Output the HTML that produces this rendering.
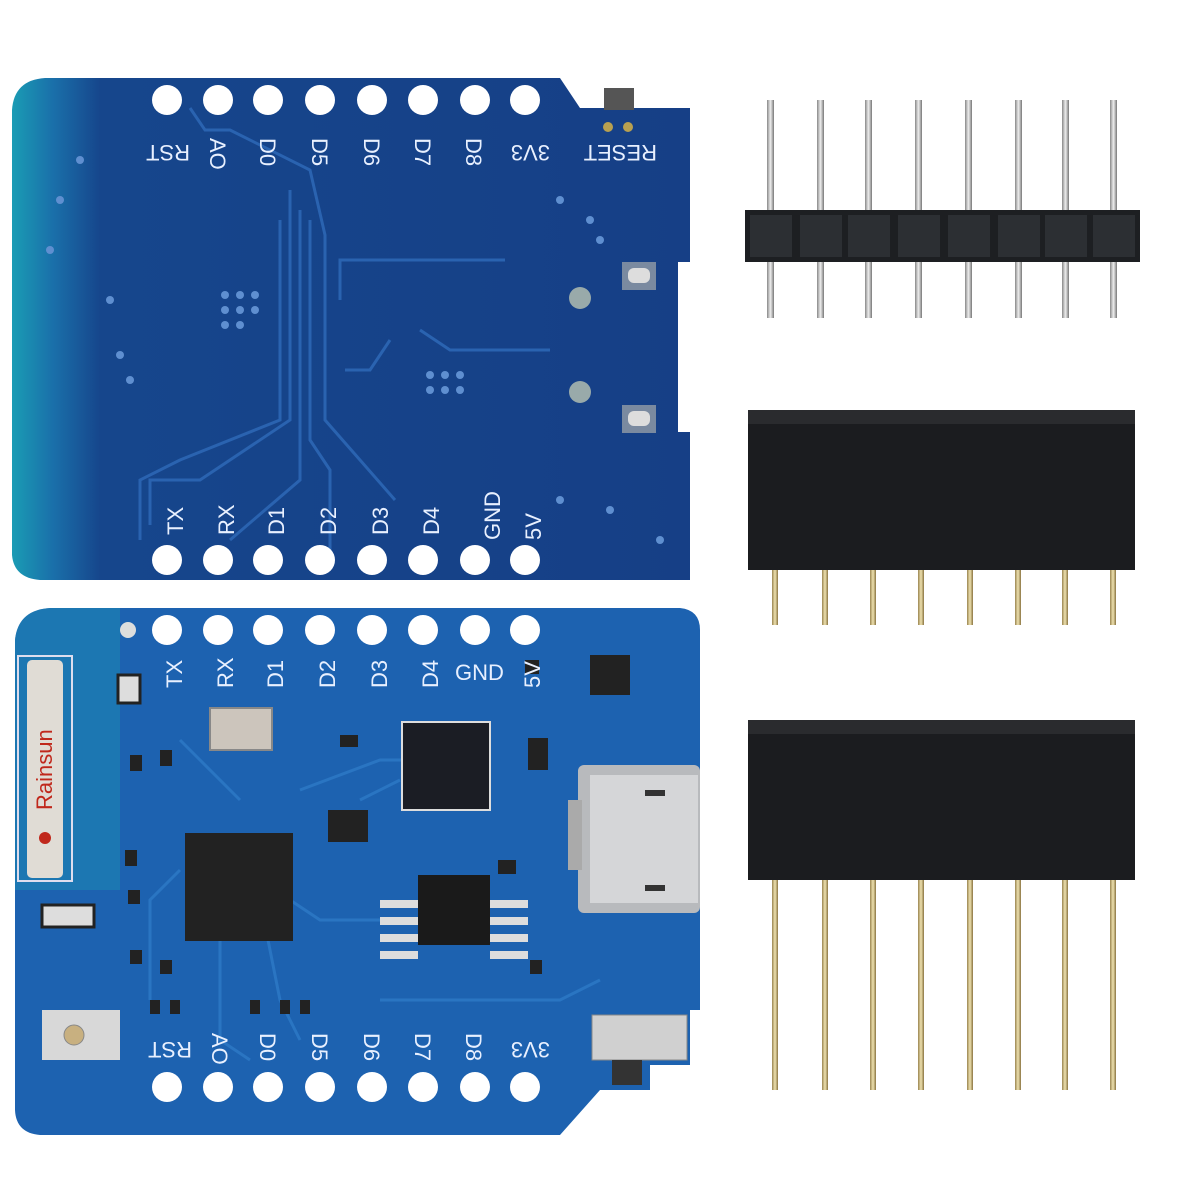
<!DOCTYPE html>
<html><head><meta charset="utf-8"><style>
html,body{margin:0;padding:0;background:#fff;width:1200px;height:1200px;overflow:hidden}
text{font-family:"Liberation Sans",sans-serif;fill:#e8f0ff;font-size:22px}
</style></head><body>
<svg width="1200" height="1200" viewBox="0 0 1200 1200" xmlns="http://www.w3.org/2000/svg">
<defs>
<linearGradient id="tg" x1="0" x2="1" y1="0" y2="0">
<stop offset="0" stop-color="#1a9cb4"/><stop offset="0.06" stop-color="#1a70aa"/><stop offset="0.13" stop-color="#16468c"/><stop offset="1" stop-color="#163f86"/>
</linearGradient>
<linearGradient id="pin" x1="0" x2="1"><stop offset="0" stop-color="#888"/><stop offset="0.5" stop-color="#eee"/><stop offset="1" stop-color="#777"/></linearGradient>
<linearGradient id="gold" x1="0" x2="1"><stop offset="0" stop-color="#9a8550"/><stop offset="0.5" stop-color="#efe2b0"/><stop offset="1" stop-color="#8a7440"/></linearGradient>
</defs>

<!-- TOP BOARD -->
<path d="M12,110 Q14,80 45,78 L560,78 L580,108 L690,108 L690,580 L40,580 Q14,578 12,555 Z" fill="url(#tg)"/>
<rect x="604" y="88" width="30" height="22" fill="#555"/>
<circle cx="608" cy="127" r="5" fill="#b8a050"/><circle cx="628" cy="127" r="5" fill="#b8a050"/>
<rect x="678" y="262" width="14" height="170" fill="#fff"/>
<rect x="622" y="262" width="34" height="28" fill="#7a8aa0"/><rect x="628" y="268" width="22" height="15" rx="6" fill="#ddd"/>
<rect x="622" y="405" width="34" height="28" fill="#7a8aa0"/><rect x="628" y="411" width="22" height="15" rx="6" fill="#ddd"/>
<circle cx="580" cy="298" r="11" fill="#9aa"/><circle cx="580" cy="392" r="11" fill="#9aa"/>
<g fill="none" stroke="#2a63b0" stroke-width="3">
<path d="M190,108 L205,130 L230,130 L310,170 L325,235 L325,420 L395,500"/>
<path d="M290,190 L290,420 L200,480 L150,480 L150,525"/>
<path d="M280,220 L280,420 L180,460 L140,480 L140,540"/>
<path d="M300,210 L300,480 L230,540"/>
<path d="M310,220 L310,440 L330,470 L330,560"/>
<path d="M340,300 L340,260 L505,260"/>
<path d="M345,370 L370,370 L390,340"/>
<path d="M420,330 L450,350 L550,350"/>
</g>
<g fill="#5f8fd0">
<circle cx="225" cy="295" r="4"/><circle cx="240" cy="295" r="4"/><circle cx="255" cy="295" r="4"/><circle cx="225" cy="310" r="4"/><circle cx="240" cy="310" r="4"/><circle cx="255" cy="310" r="4"/><circle cx="225" cy="325" r="4"/><circle cx="240" cy="325" r="4"/>
<circle cx="430" cy="375" r="4"/><circle cx="445" cy="375" r="4"/><circle cx="460" cy="375" r="4"/><circle cx="430" cy="390" r="4"/><circle cx="445" cy="390" r="4"/><circle cx="460" cy="390" r="4"/>
<circle cx="120" cy="355" r="4"/><circle cx="130" cy="380" r="4"/><circle cx="110" cy="300" r="4"/><circle cx="560" cy="200" r="4"/><circle cx="590" cy="220" r="4"/><circle cx="600" cy="240" r="4"/><circle cx="560" cy="500" r="4"/><circle cx="610" cy="510" r="4"/><circle cx="660" cy="540" r="4"/><circle cx="80" cy="160" r="4"/><circle cx="60" cy="200" r="4"/><circle cx="50" cy="250" r="4"/>
</g>
<g fill="#fff">
<circle cx="167" cy="100" r="15"/><circle cx="218" cy="100" r="15"/><circle cx="268" cy="100" r="15"/><circle cx="320" cy="100" r="15"/><circle cx="372" cy="100" r="15"/><circle cx="423" cy="100" r="15"/><circle cx="475" cy="100" r="15"/><circle cx="525" cy="100" r="15"/>
<circle cx="167" cy="560" r="15"/><circle cx="218" cy="560" r="15"/><circle cx="268" cy="560" r="15"/><circle cx="320" cy="560" r="15"/><circle cx="372" cy="560" r="15"/><circle cx="423" cy="560" r="15"/><circle cx="475" cy="560" r="15"/><circle cx="525" cy="560" r="15"/>
</g>
<g>
<text transform="translate(190,145) rotate(180)">RST</text>
<text transform="translate(210,138) rotate(90)">AO</text>
<text transform="translate(260,138) rotate(90)">D0</text>
<text transform="translate(312,138) rotate(90)">D5</text>
<text transform="translate(364,138) rotate(90)">D6</text>
<text transform="translate(415,138) rotate(90)">D7</text>
<text transform="translate(466,138) rotate(90)">D8</text>
<text transform="translate(550,145) rotate(180)">3V3</text>
<text transform="translate(657,145) rotate(180)">RESET</text>
<text transform="translate(183,535) rotate(-90)">TX</text>
<text transform="translate(234,535) rotate(-90)">RX</text>
<text transform="translate(284,535) rotate(-90)">D1</text>
<text transform="translate(336,535) rotate(-90)">D2</text>
<text transform="translate(388,535) rotate(-90)">D3</text>
<text transform="translate(439,535) rotate(-90)">D4</text>
<text transform="translate(500,540) rotate(-90)" font-size="20">GND</text>
<text transform="translate(541,540) rotate(-90)">5V</text>
</g>

<!-- BOTTOM BOARD -->
<path d="M15,640 Q18,610 50,608 L680,608 Q700,610 700,630 L700,1010 L690,1010 L690,1065 L650,1065 L650,1090 L600,1090 L560,1135 L40,1135 Q16,1133 15,1110 Z" fill="#1d62b0"/>
<path d="M15,640 Q18,610 50,608 L120,608 L120,890 L15,890 Z" fill="#1c86b4" opacity="0.6"/>
<g fill="none" stroke="#2a75c2" stroke-width="3">
<path d="M180,870 L150,900 L150,1000"/><path d="M220,900 L220,1040 L250,1060"/><path d="M260,880 L320,920 L380,920"/><path d="M300,790 L380,760 L490,760"/><path d="M240,800 L200,760 L180,740"/><path d="M260,900 L280,1000 L300,1040"/><path d="M360,800 L400,780"/><path d="M380,1000 L560,1000 L600,980"/>
</g>
<!-- antenna -->
<rect x="18" y="656" width="54" height="225" fill="none" stroke="#dde" stroke-width="2"/>
<rect x="27" y="660" width="36" height="218" rx="5" fill="#e0dcd5"/>
<text transform="translate(52,810) rotate(-90)" font-size="18" style="fill:#c0281c">Rainsun</text>
<circle cx="45" cy="838" r="6" fill="#c0281c"/>
<rect x="118" y="675" width="22" height="28" fill="#ddd" stroke="#222" stroke-width="3"/>
<rect x="210" y="708" width="62" height="42" fill="#ccc5bc" stroke="#888" stroke-width="2"/>
<!-- chips -->
<rect x="185" y="833" width="108" height="108" fill="#222"/>
<rect x="402" y="722" width="88" height="88" fill="#1b1d24" stroke="#ddd" stroke-width="2"/>
<rect x="328" y="810" width="40" height="32" fill="#222"/>
<rect x="418" y="875" width="72" height="70" fill="#1a1a1a"/>
<g fill="#ddd"><rect x="380" y="900" width="38" height="8"/><rect x="380" y="917" width="38" height="8"/><rect x="380" y="934" width="38" height="8"/><rect x="380" y="951" width="38" height="8"/><rect x="490" y="900" width="38" height="8"/><rect x="490" y="917" width="38" height="8"/><rect x="490" y="934" width="38" height="8"/><rect x="490" y="951" width="38" height="8"/></g>
<rect x="590" y="655" width="40" height="40" fill="#222"/>
<rect x="528" y="738" width="20" height="32" fill="#222"/>
<!-- USB -->
<rect x="578" y="765" width="122" height="148" rx="6" fill="#b8babd"/>
<rect x="590" y="775" width="108" height="128" fill="#d5d6d8"/>
<rect x="568" y="800" width="14" height="70" fill="#aaa"/>
<rect x="645" y="790" width="20" height="6" fill="#333"/><rect x="645" y="885" width="20" height="6" fill="#333"/>
<!-- smd small -->
<g fill="#222">
<rect x="130" y="755" width="12" height="16"/><rect x="160" y="750" width="12" height="16"/><rect x="125" y="850" width="12" height="16"/><rect x="128" y="890" width="12" height="14"/><rect x="130" y="950" width="12" height="14"/><rect x="160" y="960" width="12" height="14"/><rect x="150" y="1000" width="10" height="14"/><rect x="170" y="1000" width="10" height="14"/><rect x="340" y="735" width="18" height="12"/><rect x="525" y="660" width="14" height="14"/><rect x="498" y="860" width="18" height="14"/><rect x="250" y="1000" width="10" height="14"/><rect x="280" y="1000" width="10" height="14"/><rect x="300" y="1000" width="10" height="14"/><rect x="530" y="960" width="12" height="14"/>
</g>
<rect x="42" y="905" width="52" height="22" fill="#ddd" stroke="#222" stroke-width="3"/>
<rect x="42" y="1010" width="78" height="50" fill="#d8d8d8"/>
<circle cx="74" cy="1035" r="10" fill="#c8b080" stroke="#888"/>
<rect x="592" y="1015" width="95" height="45" fill="#d0d0d0" stroke="#888"/>
<rect x="612" y="1060" width="30" height="25" fill="#333"/>
<g fill="#fff">
<circle cx="167" cy="630" r="15"/><circle cx="218" cy="630" r="15"/><circle cx="268" cy="630" r="15"/><circle cx="320" cy="630" r="15"/><circle cx="372" cy="630" r="15"/><circle cx="423" cy="630" r="15"/><circle cx="475" cy="630" r="15"/><circle cx="525" cy="630" r="15"/>
<circle cx="167" cy="1087" r="15"/><circle cx="218" cy="1087" r="15"/><circle cx="268" cy="1087" r="15"/><circle cx="320" cy="1087" r="15"/><circle cx="372" cy="1087" r="15"/><circle cx="423" cy="1087" r="15"/><circle cx="475" cy="1087" r="15"/><circle cx="525" cy="1087" r="15"/>
</g>
<circle cx="128" cy="630" r="8" fill="#ddd"/>
<g>
<text transform="translate(182,688) rotate(-90)">TX</text>
<text transform="translate(233,688) rotate(-90)">RX</text>
<text transform="translate(283,688) rotate(-90)">D1</text>
<text transform="translate(335,688) rotate(-90)">D2</text>
<text transform="translate(387,688) rotate(-90)">D3</text>
<text transform="translate(438,688) rotate(-90)">D4</text>
<text x="455" y="680" font-size="20">GND</text>
<text transform="translate(540,688) rotate(-90)">5V</text>
<text transform="translate(192,1042) rotate(180)">RST</text>
<text transform="translate(212,1033) rotate(90)">AO</text>
<text transform="translate(260,1033) rotate(90)">D0</text>
<text transform="translate(312,1033) rotate(90)">D5</text>
<text transform="translate(364,1033) rotate(90)">D6</text>
<text transform="translate(415,1033) rotate(90)">D7</text>
<text transform="translate(466,1033) rotate(90)">D8</text>
<text transform="translate(550,1042) rotate(180)">3V3</text>
</g>

<!-- MALE HEADER -->
<g fill="url(#pin)">
<rect x="767" y="100" width="7" height="218"/><rect x="817" y="100" width="7" height="218"/><rect x="865" y="100" width="7" height="218"/><rect x="915" y="100" width="7" height="218"/><rect x="965" y="100" width="7" height="218"/><rect x="1015" y="100" width="7" height="218"/><rect x="1062" y="100" width="7" height="218"/><rect x="1110" y="100" width="7" height="218"/>
</g>
<rect x="745" y="210" width="395" height="52" fill="#1d1f22"/>
<g fill="#2c2f33"><rect x="750" y="215" width="42" height="42"/><rect x="800" y="215" width="42" height="42"/><rect x="848" y="215" width="42" height="42"/><rect x="898" y="215" width="42" height="42"/><rect x="948" y="215" width="42" height="42"/><rect x="998" y="215" width="42" height="42"/><rect x="1045" y="215" width="42" height="42"/><rect x="1093" y="215" width="42" height="42"/></g>

<!-- FEMALE HEADER 1 -->
<g fill="url(#gold)">
<rect x="772" y="570" width="6" height="55"/><rect x="822" y="570" width="6" height="55"/><rect x="870" y="570" width="6" height="55"/><rect x="918" y="570" width="6" height="55"/><rect x="967" y="570" width="6" height="55"/><rect x="1015" y="570" width="6" height="55"/><rect x="1062" y="570" width="6" height="55"/><rect x="1110" y="570" width="6" height="55"/>
</g>
<rect x="748" y="410" width="387" height="160" fill="#1b1c1f"/>
<rect x="748" y="410" width="387" height="14" fill="#2a2b2e"/>

<!-- FEMALE HEADER 2 -->
<g fill="url(#gold)">
<rect x="772" y="880" width="6" height="210"/><rect x="822" y="880" width="6" height="210"/><rect x="870" y="880" width="6" height="210"/><rect x="918" y="880" width="6" height="210"/><rect x="967" y="880" width="6" height="210"/><rect x="1015" y="880" width="6" height="210"/><rect x="1062" y="880" width="6" height="210"/><rect x="1110" y="880" width="6" height="210"/>
</g>
<rect x="748" y="720" width="387" height="160" fill="#1b1c1f"/>
<rect x="748" y="720" width="387" height="14" fill="#2a2b2e"/>
</svg>
</body></html>
